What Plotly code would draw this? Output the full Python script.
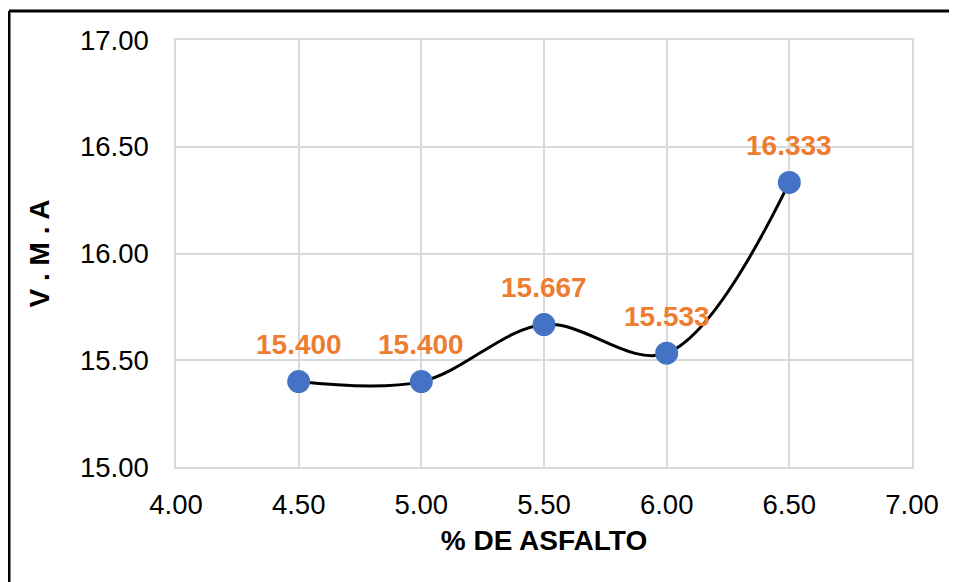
import plotly.graph_objects as go

asfalto = [4.5, 5.0, 5.5, 6.0, 6.5]
vma = [15.400, 15.400, 15.667, 15.533, 16.333]
x_ticks = [4.0, 4.5, 5.0, 5.5, 6.0, 6.5, 7.0]
y_ticks = [15.0, 15.5, 16.0, 16.5, 17.0]

FONT = "Liberation Sans, Arial, sans-serif"
GRID = "#D9D9D9"

fig = go.Figure()
fig.add_trace(go.Scatter(
    x=asfalto, y=vma, mode="lines+markers",
    line=dict(color="black", width=3, shape="spline", smoothing=1.0),
    marker=dict(color="#4472C4", size=23, line=dict(width=0)),
    hoverinfo="skip", showlegend=False,
))

for xv, yv in zip(asfalto, vma):
    fig.add_annotation(
        x=xv, y=yv, text=f"{yv:.3f}", showarrow=False, yshift=37,
        font=dict(family=FONT, size=28, color="#ED7D31", weight="bold"),
    )

axis_common = dict(
    showgrid=True, gridcolor=GRID, gridwidth=1.5,
    showline=True, linecolor=GRID, linewidth=1.5, mirror=True,
    zeroline=False, ticks="",
    tickfont=dict(family=FONT, size=27.5, color="black"),
)

fig.update_xaxes(
    range=[4.0, 7.0], tickvals=x_ticks,
    ticktext=[f"{v:.2f}" for v in x_ticks],
    ticklabelstandoff=12,
    title=dict(text="% DE ASFALTO", standoff=12,
               font=dict(family=FONT, size=28, color="black", weight="bold")),
    **axis_common,
)
fig.update_yaxes(
    range=[15.0, 17.0], tickvals=y_ticks,
    ticktext=[f"{v:.2f}" for v in y_ticks],
    ticklabelstandoff=20,
    title=dict(text="V . M . A", standoff=22,
               font=dict(family=FONT, size=28, color="black", weight="bold")),
    **axis_common,
)

# page has an 8px body margin: figure origin is at screen (8, 8)
W, H = 949, 574
L, R, T, B = 168, 45, 32, 115
pw, ph = W - L - R, H - T - B
bx0 = (1 - L) / pw
btop = (H - 3 - B) / ph
bbottom = -(H + 20 - T - ph) / ph
bright = (W + 40 - L) / pw
frame = dict(color="black", width=3)
fig.add_shape(type="line", xref="paper", yref="paper",
              x0=bx0, x1=bx0, y0=bbottom, y1=btop, line=frame, layer="below")
fig.add_shape(type="line", xref="paper", yref="paper",
              x0=bx0, x1=bright, y0=btop, y1=btop, line=frame, layer="below")

fig.update_layout(
    width=W, height=H,
    margin=dict(l=L, r=R, t=T, b=B),
    paper_bgcolor="white", plot_bgcolor="white",
    font=dict(family=FONT),
)

fig.write_html("out.html", post_script="document.body.style.overflow='hidden';")
